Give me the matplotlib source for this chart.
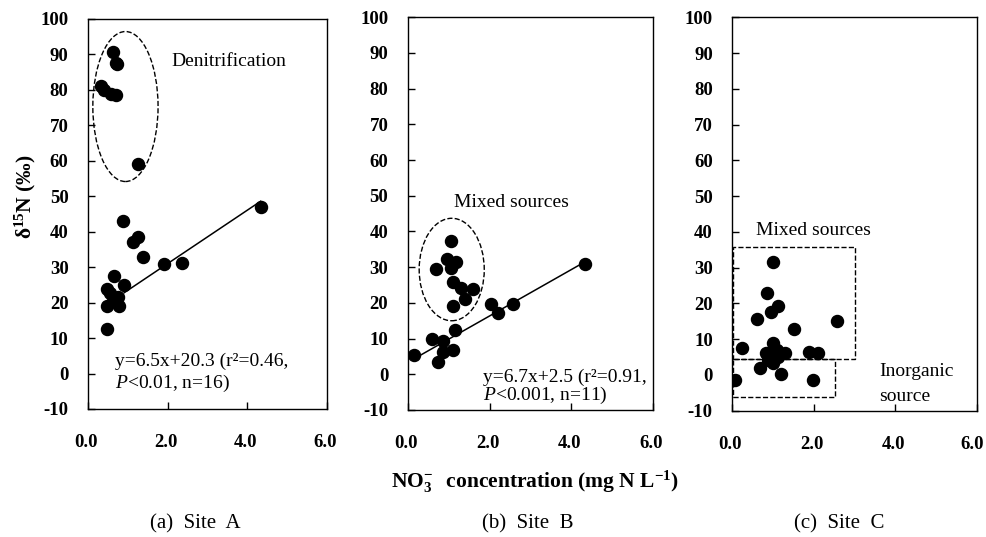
import numpy as np
import matplotlib
matplotlib.use('Agg')
import matplotlib.pyplot as plt
import matplotlib.transforms as mtransforms
from matplotlib.patches import Ellipse, Rectangle

plt.rcParams['font.family'] = ['Liberation Serif', 'DejaVu Serif']
plt.rcParams['mathtext.fontset'] = 'custom'
plt.rcParams['mathtext.rm'] = 'Liberation Serif'
plt.rcParams['mathtext.it'] = 'Liberation Serif:italic'
plt.rcParams['mathtext.bf'] = 'Liberation Serif:bold'
plt.rcParams['axes.unicode_minus'] = False

# Site A: NO3- (mg N/L) vs d15N (permil)
a_x = [0.63, 0.70, 0.74, 0.33, 0.41, 0.58, 0.70, 1.26,
       4.34, 0.87, 1.13, 1.26, 1.39, 1.92, 2.35, 0.66, 0.90,
       0.48, 0.55, 0.76, 0.62, 0.48, 0.78, 0.48]
a_y = [90.8, 87.5, 87.2, 81.1, 80.0, 78.7, 78.6, 59.2,
       47.1, 43.0, 37.0, 38.4, 33.0, 30.8, 31.1, 27.5, 25.0,
       23.8, 22.6, 21.7, 20.5, 19.0, 19.1, 12.5]
a_fit_x = [0.91, 4.34]
a_fit_y = [22.8, 48.6]

# Site B
b_x = [1.05, 0.97, 1.18, 0.69, 1.06, 1.11, 1.30, 1.59, 1.41, 1.11,
       2.04, 2.21, 2.58, 4.33, 1.16, 0.59, 0.87, 1.10, 0.86, 0.75, 0.16]
b_y = [37.3, 32.2, 31.5, 29.4, 29.7, 25.9, 24.1, 23.8, 21.0, 19.2,
       19.7, 17.1, 19.6, 31.0, 12.4, 9.9, 9.4, 6.8, 6.3, 3.5, 5.4]
b_fit_x = [0.18, 4.33]
b_fit_y = [4.5, 31.5]

# Site C
c_x = [0.07, 0.25, 0.60, 0.84, 0.99, 0.95, 1.11, 1.52, 2.56, 1.01,
       0.83, 0.93, 1.09, 0.88, 1.13, 1.29, 0.68, 1.01, 1.19, 1.89, 2.11, 1.99]
c_y = [-1.4, 7.6, 15.5, 23.0, 31.7, 17.7, 19.3, 12.8, 15.1, 9.0,
       6.2, 6.0, 7.0, 4.2, 5.1, 6.0, 1.8, 3.4, 0.25, 6.5, 6.0, -1.4]

fig = plt.figure(figsize=(9.86, 5.37), dpi=100)

positions = [
    [0.0893, 0.2384, 0.2421, 0.7263],
    [0.4135, 0.2365, 0.2491, 0.7313],
    [0.7427, 0.2352, 0.2479, 0.7326],
]
axs = [fig.add_axes(p) for p in positions]

shift = mtransforms.ScaledTranslation(-2 / 100, 0, fig.dpi_scale_trans)
for ax in axs:
    ax.set_xlim(0, 6)
    ax.set_ylim(-10, 100)
    ax.set_xticks([0, 2, 4, 6])
    ax.set_xticklabels(['0.0', '2.0', '4.0', '6.0'])
    ax.set_yticks(np.arange(-10, 101, 10))
    ax.tick_params(axis='both', direction='in', length=5, width=1, labelsize=13.5)
    ax.tick_params(axis='y', pad=14)
    ax.tick_params(axis='x', pad=18)
    for lab in ax.get_xticklabels() + ax.get_yticklabels():
        lab.set_fontweight('bold')
    for lab in ax.get_xticklabels():
        lab.set_transform(lab.get_transform() + shift)
    for sp in ax.spines.values():
        sp.set_linewidth(1.0)

# keep the last x label of panel (c) inside the figure
last = axs[2].get_xticklabels()[-1]
last.set_transform(last.get_transform() +
                   mtransforms.ScaledTranslation(-3 / 100, 0, fig.dpi_scale_trans))

# (a)
ax = axs[0]
ax.scatter(a_x, a_y, s=75, color='black', zorder=3)
ax.plot(a_fit_x, a_fit_y, color='black', lw=1.1)
ax.add_patch(Ellipse((0.94, 75.3), 1.64, 42.3, fill=False, ls='--', lw=1.0))
ax.text(2.10, 88.0, 'Denitrification', fontsize=14, va='center')
ax.text(0.68, 3.3, 'y=6.5x+20.3 (r²=0.46,', fontsize=14, va='center')
ax.text(0.68, -2.7, r'$\mathit{P}$<0.01, n=16)', fontsize=14, va='center')

# (b)
ax = axs[1]
ax.scatter(b_x, b_y, s=75, color='black', zorder=3)
ax.plot(b_fit_x, b_fit_y, color='black', lw=1.1)
ax.add_patch(Ellipse((1.075, 29.35), 1.59, 28.7, fill=False, ls='--', lw=1.0))
ax.text(1.14, 48.2, 'Mixed sources', fontsize=14, va='center')
ax.text(1.83, -0.8, 'y=6.7x+2.5 (r²=0.91,', fontsize=14, va='center')
ax.text(1.83, -5.8, r'$\mathit{P}$<0.001, n=11)', fontsize=14, va='center')

# (c)
ax = axs[2]
ax.scatter(c_x, c_y, s=75, color='black', zorder=3)
ax.add_patch(Rectangle((0.01, 4.45), 3.01, 31.4, fill=False, ls='--', lw=1.0))
ax.add_patch(Rectangle((0.01, -6.1), 2.52, 10.55, fill=False, ls='--', lw=1.0))
ax.text(0.59, 40.5, 'Mixed sources', fontsize=14, va='center')
ax.text(3.6, 0.9, 'Inorganic', fontsize=14, va='center')
ax.text(3.6, -6.1, 'source', fontsize=14, va='center')

fig.text(25 / 986, 1 - 197 / 537, r'$\mathbf{\delta^{15}N}$ (‰)', rotation=90,
         fontsize=15.5, fontweight='bold', ha='center', va='center')
fig.text(535 / 986, 1 - 482 / 537,
         r'$\mathbf{NO_3^{\!-}}$  concentration (mg N L$\mathbf{^{-1}}$)',
         fontsize=15.5, fontweight='bold', ha='center', va='center')

captions = ['(a)  Site  A', '(b)  Site  B', '(c)  Site  C']
cap_x = [195, 528, 839]
for cx, cap in zip(cap_x, captions):
    fig.text(cx / 986, 1 - 524 / 537, cap, fontsize=15, ha='center', va='center')

fig.savefig('out.png', dpi=100)
